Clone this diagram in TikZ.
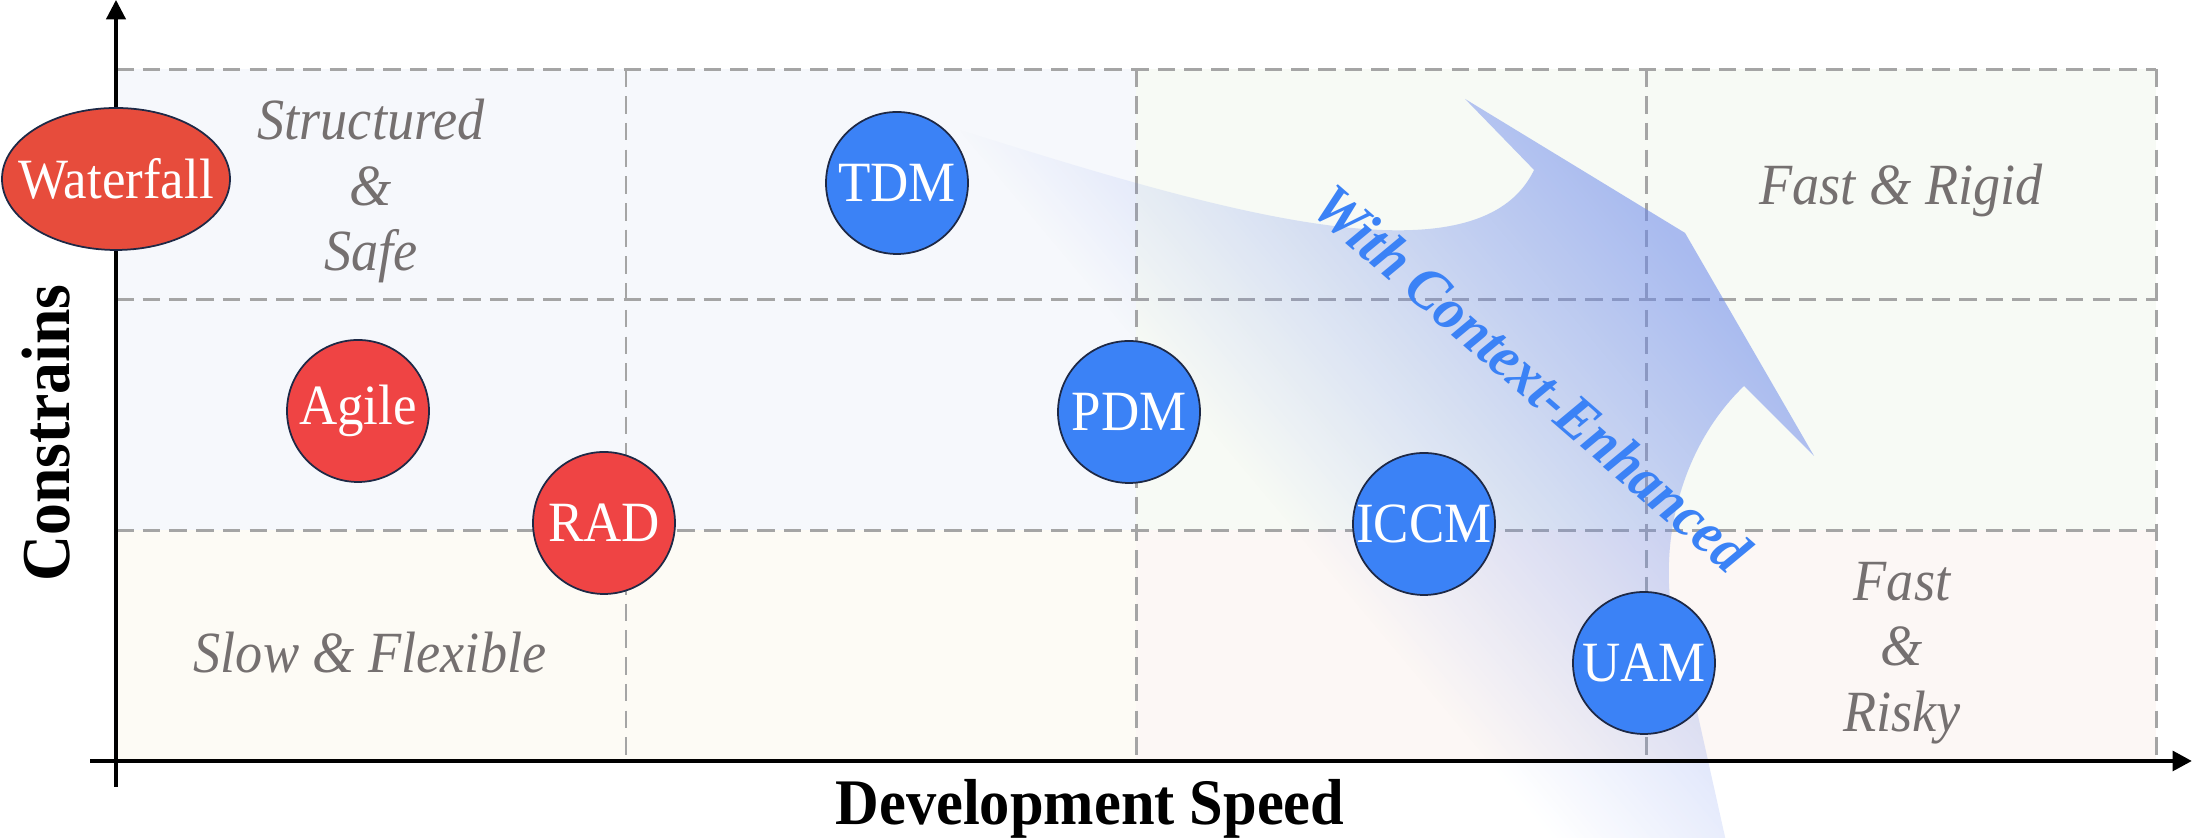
\documentclass[tikz,border=0pt]{standalone}
\usepackage{fontspec}
\setmainfont{Liberation Serif}[FakeStretch=0.93]
\usepackage{tikz}
\usetikzlibrary{shapes.geometric,arrows.meta,fadings}
\definecolor{cRed}{RGB}{239,68,68}
\definecolor{cRedDeep}{RGB}{231,76,60}
\definecolor{cBlue}{RGB}{59,130,246}
\definecolor{cEdge}{RGB}{30,41,70}
\definecolor{cZone}{RGB}{117,112,112}
\definecolor{cGrid}{RGB}{165,165,165}
\definecolor{cQBlue}{RGB}{246,248,252}
\definecolor{cQCream}{RGB}{253,251,245}
\definecolor{cQGreen}{RGB}{247,250,245}
\definecolor{cQPink}{RGB}{252,247,245}
\definecolor{cArrow}{RGB}{105,135,235}
\tikzfading[name=ctxfade, left color=transparent!100,
            middle color=transparent!80, right color=transparent!0]
\tikzset{
  basebubble/.style={circle,draw=cEdge,line width=0.5pt,inner sep=-2pt,
                     minimum size=1.42cm,text=white,
                     font=\fontsize{16.2}{19}\selectfont},
  rednode/.style={basebubble,fill=cRed},
  bluenode/.style={basebubble,fill=cBlue},
  zonelabel/.style={align=center,text=cZone,
                    font=\fontsize{16.6}{18.6}\selectfont\itshape},
  axislabel/.style={font=\fontsize{18.5}{21}\selectfont\bfseries},
  gridline/.style={dash pattern=on 5pt off 2.6pt,line width=0.85pt,color=cGrid},
  axisarr/.style={-{Triangle[length=5.5pt,width=5.5pt]},color=black}
}

\begin{document}
\begin{tikzpicture}
  \useasboundingbox (-1.16,-0.77) rectangle (20.94,7.61);

  % Quadrants
  \fill[cQBlue]  (0,2.305) rectangle (10.2,6.915);
  \fill[cQCream] (0,0)     rectangle (10.2,2.305);
  \fill[cQGreen] (10.2,2.305) rectangle (20.4,6.915);
  \fill[cQPink]  (10.2,0)  rectangle (20.4,2.305);

  % Grid
  \foreach \x in {5.1,10.2,15.3,20.4}
    \draw[gridline] (\x,6.915) -- (\x,0);
  \foreach \y in {2.305,4.61,6.915}
    \draw[gridline] (0,\y) -- (20.4,\y);

  % Context arrow
  \fill[cArrow,fill opacity=0.55,path fading=ctxfade,fit fading=false,
        fading transform={shift={(13.61,3.85)},rotate=40,xscale=2.72,yscale=3.3}]
    (8.44,6.31) .. controls (10.84,5.56) and (13.6,4.7) .. (14.18,5.91)
    -- (13.49,6.62) -- (15.69,5.28) -- (16.98,3.05) -- (16.28,3.75)
    .. controls (15.5,3.0) and (15.35,1.75) .. (15.72,0.9)
    -- (16.11,-0.85) -- (12.0,-0.85) -- cycle;

  % Axes
  \coordinate (xstart) at (-0.26,0);
  \coordinate (xend)   at (20.76,0);
  \coordinate (ystart) at (0,-0.26);
  \coordinate (yend)   at (0,7.61);
  \draw[axisarr,line width=1.3pt] (xstart) -- (xend);
  \draw[axisarr,line width=0.9pt] (ystart) -- (yend);
  \node[axislabel] (xlab) at (9.74,-0.48) {Development Speed};
  \node[axislabel,font=\fontsize{19.5}{22}\selectfont\bfseries,rotate=90]
    (ylab) at (-0.70,3.28) {Constrains};

  % Zone labels
  \node[zonelabel] (ss) at (2.55,5.70)  {Structured\\\&\\Safe};
  \node[zonelabel] (sf) at (2.54,1.08)  {Slow \& Flexible};
  \node[zonelabel] (fr) at (17.85,5.71) {Fast \& Rigid};
  \node[zonelabel] (fk) at (17.86,1.08) {Fast\\\&\\Risky};

  % Methods
  \node[basebubble,ellipse,fill=cRedDeep,minimum width=2.28cm,
        minimum height=1.42cm,inner xsep=-0.25cm] (wf) at (0,5.82) {Waterfall};
  \node[rednode]  (agile) at (2.42,3.50)  {Agile};
  \node[rednode]  (rad)   at (4.88,2.38)  {RAD};
  \node[bluenode] (tdm)   at (7.81,5.78)  {TDM};
  \node[bluenode] (pdm)   at (10.13,3.49) {PDM};
  \node[bluenode] (iccm)  at (13.08,2.37) {ICCM};
  \node[bluenode] (uam)   at (15.28,0.98) {UAM};

  % Arrow text
  \node[text=cBlue,font=\fontsize{17}{20}\selectfont\bfseries\itshape,rotate=-41]
    (ctx) at (14.16,3.83) {With Context-Enhanced};

\end{tikzpicture}
\end{document}
